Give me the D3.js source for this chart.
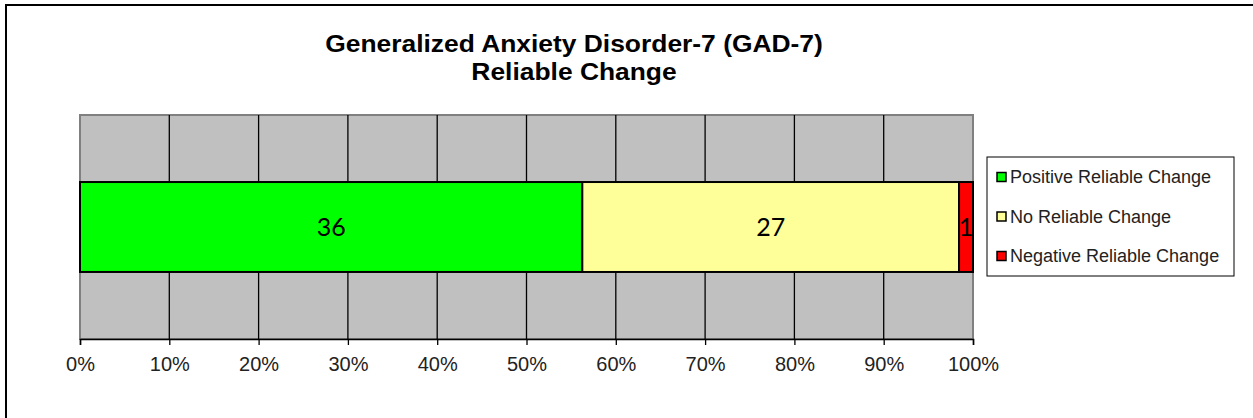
<!DOCTYPE html>
<html>
  <head>
    <meta charset="utf-8">
    <title>GAD-7 Reliable Change</title>
    <script src="https://d3js.org/d3.v7.min.js"></script>
    <style>
      body { margin: 0; background: #fff; }
      text { font-family: Arial, "Liberation Sans", sans-serif; }
    </style>
  </head>
  <body>
    <div id="vis"></div>
    <script>
      const width = 1253;
      const height = 418;

      // data
      const categories = ["Positive Reliable Change", "No Reliable Change", "Negative Reliable Change"];
      const counts = [36, 27, 1];
      const colors = ["#00ff00", "#ffff99", "#ff0000"];
      const tickValues = [0, 0.1, 0.2, 0.3, 0.4, 0.5, 0.6, 0.7, 0.8, 0.9, 1];

      const plot = {left: 80, top: 115, right: 973, bottom: 339};

      const svg = d3.select("#vis").append("svg")
        .attr("width", width).attr("height", height);

      // outer chart border (only top/left visible in the crop)
      svg.append("rect")
        .attr("x", 6).attr("y", 5)
        .attr("width", width + 10).attr("height", height + 10)
        .attr("fill", "#fff").attr("stroke", "#000").attr("stroke-width", 2);

      // title (source looks slightly stretched horizontally)
      const title = svg.append("g").attr("transform", "translate(574,0) scale(1.1,1)")
        .append("text")
        .attr("text-anchor", "middle")
        .attr("font-size", 24).attr("font-weight", "bold");
      title.append("tspan").attr("x", 0).attr("y", 52).text("Generalized Anxiety Disorder-7 (GAD-7)");
      title.append("tspan").attr("x", 0).attr("y", 80).text("Reliable Change");

      const x = d3.scaleLinear().domain([0, 1]).range([plot.left, plot.right]);
      const y = d3.scaleBand().domain(["GAD-7"]).range([plot.top, plot.bottom]).padding(0.427);

      // plot area
      svg.append("rect")
        .attr("x", plot.left).attr("y", plot.top)
        .attr("width", plot.right - plot.left).attr("height", plot.bottom - plot.top)
        .attr("fill", "#c0c0c0").attr("stroke", "#808080").attr("stroke-width", 2);

      // gridlines
      svg.append("g").selectAll("line")
        .data(tickValues.slice(1, -1))
        .join("line")
        .attr("x1", d => x(d)).attr("x2", d => x(d))
        .attr("y1", plot.top).attr("y2", plot.bottom)
        .attr("stroke", "#000").attr("stroke-width", 1.3);

      // stacked bar
      const total = d3.sum(counts);
      let acc = 0;
      const segs = counts.map((c, i) => {
        const s = {name: categories[i], value: c, x0: acc / total, x1: (acc + c) / total, color: colors[i]};
        acc += c;
        return s;
      });

      const bar = svg.append("g");
      bar.selectAll("rect")
        .data(segs)
        .join("rect")
        .attr("x", d => x(d.x0)).attr("y", y("GAD-7"))
        .attr("width", d => x(d.x1) - x(d.x0)).attr("height", y.bandwidth())
        .attr("fill", d => d.color).attr("stroke", "#000").attr("stroke-width", 2);

      bar.selectAll("text")
        .data(segs)
        .join("text")
        .attr("x", d => (x(d.x0) + x(d.x1)) / 2)
        .attr("y", y("GAD-7") + y.bandwidth() / 2)
        .attr("dy", "0.36em")
        .attr("text-anchor", "middle")
        .style("font-family", "Lato, 'Open Sans', sans-serif")
        .attr("font-size", 25)
        .attr("fill", "#000")
        .text(d => d.value);

      // x axis
      const axis = svg.append("g")
        .attr("transform", `translate(0,${plot.bottom})`)
        .call(d3.axisBottom(x).tickValues(tickValues).tickFormat(d3.format(".0%")).tickSize(6).tickPadding(12));
      axis.select(".domain").attr("stroke", "#000").attr("stroke-width", 1.5);
      axis.selectAll(".tick line").attr("stroke", "#000").attr("stroke-width", 1.3);
      axis.selectAll(".tick text")
        .style("font-family", "Arial, 'Liberation Sans', sans-serif")
        .style("font-size", "20px").attr("fill", "#222");

      // legend
      const legend = svg.append("g").attr("transform", "translate(987,157)");
      legend.append("rect")
        .attr("width", 247).attr("height", 119)
        .attr("fill", "#fff").attr("stroke", "#000").attr("stroke-width", 1);
      const item = legend.selectAll("g.item")
        .data(categories)
        .join("g")
        .attr("class", "item")
        .attr("transform", (d, i) => `translate(10,${20 + i * 39.5})`);
      item.append("rect")
        .attr("x", 0).attr("y", -4.5)
        .attr("width", 9).attr("height", 9)
        .attr("fill", (d, i) => colors[i]).attr("stroke", "#000").attr("stroke-width", 1.5);
      item.append("text")
        .attr("x", 13).attr("y", 0).attr("dy", "0.35em")
        .attr("font-size", 18).attr("fill", "#222")
        .text(d => d);
    </script>
  </body>
</html>
